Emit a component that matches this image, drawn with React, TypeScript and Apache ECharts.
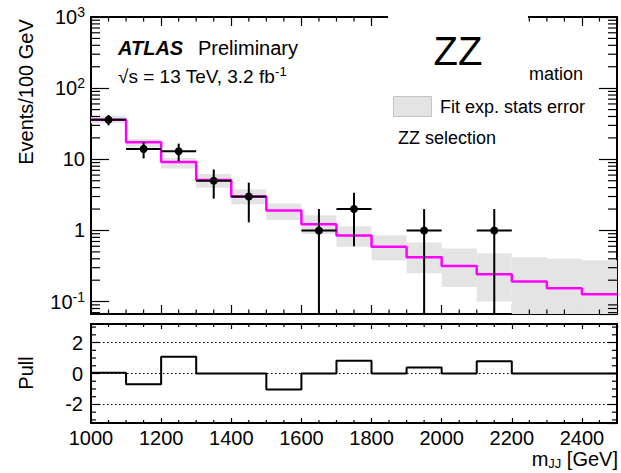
import React, { useEffect, useRef } from "react";
import * as echarts from "echarts";

// ---------------- data ----------------
const binEdges = [1000, 1100, 1200, 1300, 1400, 1500, 1600, 1700, 1800, 1900, 2000, 2100, 2200, 2300, 2400, 2500];
const fitValues = [36, 17.3, 9.2, 5.1, 2.98, 1.91, 1.22, 0.85, 0.59, 0.42, 0.316, 0.243, 0.192, 0.154, 0.127];
const bandLow = [32, 14.7, 7.4, 4.0, 2.33, 1.4, 0.89, 0.59, 0.38, 0.25, 0.16, 0.1, 0.05, 0.04, 0.035];
const bandHigh = [41, 19.3, 10.4, 6.2, 3.8, 2.4, 1.64, 1.15, 0.86, 0.68, 0.56, 0.48, 0.42, 0.4, 0.38];
const dataCounts: (number | null)[] = [36, 14, 13, 5, 3, null, 1, 2, null, 1, null, 1, null, null, null];
const dataErrors: (number | null)[] = [6, 3.7, 3.6, 2.2, 1.7, null, 1, 1.4, null, 1, null, 1, null, null, null];
const pullValues = [0.05, -0.7, 1.08, 0, 0, -1.03, 0, 0.82, 0, 0.39, 0, 0.8, 0, 0, 0];

// axis structure
const xMin = 1000;
const xMax = 2500;
const xMajorStep = 200;
const xMinorStep = 50;
const yMin = 0.067;
const yMax = 1000;
const pullMin = -3.2;
const pullMax = 3.2;
const pullMinorTicks = [-3, -2.5, -1.5, -1, -0.5, 0.5, 1, 1.5, 2.5, 3];

const FONT = "Liberation Sans";

const xMinorTicks: number[] = [];
for (let v = xMin + xMinorStep; v < xMax; v += xMinorStep) {
  if (v % xMajorStep !== 0) xMinorTicks.push(v);
}
const logMinorTicks: number[] = [];
for (let e = -2; e <= 2; e++) {
  for (let m = 2; m <= 9; m++) {
    const v = m * Math.pow(10, e);
    if (v >= yMin && v <= yMax) logMinorTicks.push(v);
  }
}

const stepData = (vals: number[]) => [
  ...vals.map((v, i) => [binEdges[i], v]),
  [binEdges[vals.length], vals[vals.length - 1]],
];

function xTickSeries(gridIdx: number, values: number[], dummyY: number, len: number) {
  return {
    type: "custom",
    xAxisIndex: gridIdx * 2,
    yAxisIndex: gridIdx * 2,
    z: 6,
    silent: true,
    data: values.map((v) => [v, dummyY]),
    encode: { x: 0, y: 1 },
    renderItem: (params: any, api: any) => {
      const cs = params.coordSys;
      const x = api.coord([api.value(0), dummyY])[0];
      const st = { stroke: "#000", lineWidth: 1.2 };
      return {
        type: "group",
        children: [
          { type: "line", shape: { x1: x, y1: cs.y + cs.height, x2: x, y2: cs.y + cs.height - len }, style: st },
          { type: "line", shape: { x1: x, y1: cs.y, x2: x, y2: cs.y + len }, style: st },
        ],
      };
    },
  };
}

function yTickSeries(gridIdx: number, values: number[], dummyX: number, len: number) {
  return {
    type: "custom",
    xAxisIndex: gridIdx * 2,
    yAxisIndex: gridIdx * 2,
    z: 6,
    silent: true,
    data: values.map((v) => [dummyX, v]),
    encode: { x: 0, y: 1 },
    renderItem: (params: any, api: any) => {
      const cs = params.coordSys;
      const y = api.coord([dummyX, api.value(1)])[1];
      const st = { stroke: "#000", lineWidth: 1.2 };
      return {
        type: "group",
        children: [
          { type: "line", shape: { x1: cs.x, y1: y, x2: cs.x + len, y2: y }, style: st },
          { type: "line", shape: { x1: cs.x + cs.width, y1: y, x2: cs.x + cs.width - len, y2: y }, style: st },
        ],
      };
    },
  };
}

const axisLineStyle = { show: true, onZero: false, lineStyle: { color: "#000", width: 2 } };

function buildOption() {
  const bandData = fitValues.map((_, i) => [binEdges[i], binEdges[i + 1], bandLow[i], bandHigh[i]]);
  const pointData = dataCounts
    .map((c, i) =>
      c == null
        ? null
        : [(binEdges[i] + binEdges[i + 1]) / 2, (binEdges[i + 1] - binEdges[i]) / 2, c, dataErrors[i] as number]
    )
    .filter((d) => d !== null);

  const xAxisBase = (gridIndex: number, position: string, showLabel: boolean, tickLen: number) => ({
    type: "value",
    gridIndex,
    position,
    min: xMin,
    max: xMax,
    interval: xMajorStep,
    axisLine: axisLineStyle,
    axisTick: { show: true, inside: true, length: tickLen, lineStyle: { color: "#000", width: 1.2 } },
    splitLine: { show: false },
    axisLabel: {
      show: showLabel,
      color: "#000",
      fontSize: 20,
      fontFamily: FONT,
      margin: 5,
      showMaxLabel: false,
      formatter: (v: number) => String(Math.round(v)),
    },
  });

  return {
    animation: false,
    textStyle: { fontFamily: FONT },
    grid: [
      { left: 91, top: 17, width: 526, height: 297 },
      { left: 91, top: 324, width: 526, height: 99 },
    ],
    xAxis: [
      xAxisBase(0, "bottom", false, 9),
      xAxisBase(0, "top", false, 9),
      xAxisBase(1, "bottom", true, 5),
      xAxisBase(1, "top", false, 5),
    ],
    yAxis: [
      {
        type: "log",
        logBase: 10,
        gridIndex: 0,
        position: "left",
        min: yMin,
        max: yMax,
        axisLine: axisLineStyle,
        axisTick: { show: true, inside: true, length: 18, lineStyle: { color: "#000", width: 1.2 } },
        splitLine: { show: false },
        axisLabel: {
          color: "#000",
          fontFamily: FONT,
          fontSize: 20,
          margin: 6,
          showMinLabel: false,
          formatter: (v: number) => {
            const e = Math.log10(v);
            const r = Math.round(e);
            if (Math.abs(e - r) > 1e-6) return "";
            if (r === 0) return "{b|1}";
            if (r === 1) return "{b|10}";
            return `{b|10}{s|${r}}`;
          },
          rich: {
            b: { fontSize: 20, lineHeight: 24, fontFamily: FONT, color: "#000" },
            s: { fontSize: 14, lineHeight: 14, verticalAlign: "top", fontFamily: FONT, color: "#000" },
          },
        },
      },
      {
        type: "log",
        logBase: 10,
        gridIndex: 0,
        position: "right",
        min: yMin,
        max: yMax,
        axisLine: axisLineStyle,
        axisTick: { show: true, inside: true, length: 18, lineStyle: { color: "#000", width: 1.2 } },
        splitLine: { show: false },
        axisLabel: { show: false },
      },
      {
        type: "value",
        gridIndex: 1,
        position: "left",
        min: pullMin,
        max: pullMax,
        splitNumber: 3,
        axisLine: axisLineStyle,
        axisTick: { show: true, inside: true, length: 9, lineStyle: { color: "#000", width: 1.2 } },
        splitLine: { show: true, lineStyle: { color: "#000", width: 1, type: [1.5, 2.5] } },
        axisLabel: {
          color: "#000",
          fontFamily: FONT,
          fontSize: 20,
          margin: 8,
          showMinLabel: false,
          showMaxLabel: false,
          formatter: (v: number) => (Math.abs(v - Math.round(v)) > 1e-6 ? "" : String(Math.round(v))),
        },
      },
      {
        type: "value",
        gridIndex: 1,
        position: "right",
        min: pullMin,
        max: pullMax,
        splitNumber: 3,
        axisLine: axisLineStyle,
        axisTick: { show: true, inside: true, length: 9, lineStyle: { color: "#000", width: 1.2 } },
        splitLine: { show: false },
        axisLabel: { show: false },
      },
    ],
    series: [
      {
        type: "custom",
        name: "Fit exp. stats error",
        xAxisIndex: 0,
        yAxisIndex: 0,
        z: 2,
        clip: true,
        silent: true,
        data: bandData,
        encode: { x: [0, 1], y: [2, 3] },
        renderItem: (params: any, api: any) => {
          const cs = params.coordSys;
          const pTop = api.coord([api.value(0), api.value(3)]);
          const pBot = api.coord([api.value(1), api.value(2)]);
          const yTop = Math.max(pTop[1], cs.y);
          const yBot = Math.min(pBot[1], cs.y + cs.height);
          return {
            type: "rect",
            shape: { x: pTop[0], y: yTop, width: pBot[0] - pTop[0], height: yBot - yTop },
            style: { fill: "#e4e4e4" },
          };
        },
      },
      {
        type: "line",
        name: "Fit",
        xAxisIndex: 0,
        yAxisIndex: 0,
        z: 3,
        step: "end",
        showSymbol: false,
        silent: true,
        data: stepData(fitValues),
        lineStyle: { color: "#ff00ff", width: 2.5 },
      },
      {
        type: "custom",
        name: "Data",
        xAxisIndex: 0,
        yAxisIndex: 0,
        z: 4,
        silent: true,
        data: pointData,
        encode: { x: 0, y: 2 },
        renderItem: (params: any, api: any) => {
          const cs = params.coordSys;
          const xc = api.value(0);
          const hw = api.value(1);
          const y = api.value(2);
          const e = api.value(3);
          const c = api.coord([xc, y]);
          const l = api.coord([xc - hw, y]);
          const r = api.coord([xc + hw, y]);
          const t = api.coord([xc, y + e]);
          const bottomY = cs.y + cs.height;
          const lowVal = y - e;
          const by = lowVal > 0 ? Math.min(api.coord([xc, lowVal])[1], bottomY) : bottomY;
          const st = { stroke: "#000", lineWidth: 2 };
          return {
            type: "group",
            children: [
              { type: "line", shape: { x1: l[0], y1: c[1], x2: r[0], y2: c[1] }, style: st },
              { type: "line", shape: { x1: c[0], y1: t[1], x2: c[0], y2: by }, style: st },
              { type: "circle", shape: { cx: c[0], cy: c[1], r: 4 }, style: { fill: "#000" } },
            ],
          };
        },
      },
      {
        type: "line",
        name: "Pull",
        xAxisIndex: 2,
        yAxisIndex: 2,
        z: 3,
        step: "end",
        showSymbol: false,
        silent: true,
        data: stepData(pullValues),
        lineStyle: { color: "#000", width: 2 },
      },
      xTickSeries(0, xMinorTicks, 1, 4.5),
      yTickSeries(0, logMinorTicks, 1500, 9),
      xTickSeries(1, xMinorTicks, 0, 3),
      yTickSeries(1, pullMinorTicks, 1500, 5),
    ],
    graphic: [
      {
        type: "text",
        z: 100,
        x: 26,
        y: 92,
        rotation: Math.PI / 2,
        style: { text: "Events/100 GeV", fontSize: 20, fontFamily: FONT, fill: "#000", align: "center", verticalAlign: "middle" },
      },
      {
        type: "text",
        z: 100,
        x: 26,
        y: 373,
        rotation: Math.PI / 2,
        style: { text: "Pull", fontSize: 20, fontFamily: FONT, fill: "#000", align: "center", verticalAlign: "middle" },
      },
      {
        type: "text",
        z: 100,
        x: 618,
        y: 459,
        style: {
          text: "{m|m}{j|JJ}{m| [GeV]}",
          align: "right",
          verticalAlign: "middle",
          fill: "#000",
          rich: {
            m: { fontSize: 20, lineHeight: 22, fontFamily: FONT, fill: "#000" },
            j: { fontSize: 13, lineHeight: 4, verticalAlign: "bottom", fontFamily: FONT, fill: "#000" },
          },
        },
      },
      {
        type: "text",
        z: 100,
        x: 118,
        y: 48,
        style: { text: "ATLAS", fontSize: 20, fontWeight: "bold", fontStyle: "italic", fontFamily: FONT, fill: "#000", verticalAlign: "middle" },
      },
      {
        type: "text",
        z: 100,
        x: 198,
        y: 48,
        style: { text: "Preliminary", fontSize: 20, fontFamily: FONT, fill: "#000", verticalAlign: "middle" },
      },
      {
        type: "text",
        z: 100,
        x: 118,
        y: 76,
        style: {
          text: "{n|√s = 13 TeV, 3.2 fb}{s|-1}",
          verticalAlign: "middle",
          fill: "#000",
          rich: {
            n: { fontSize: 19, lineHeight: 22, fontFamily: FONT, fill: "#000" },
            s: { fontSize: 13, lineHeight: 12, verticalAlign: "top", fontFamily: FONT, fill: "#000" },
          },
        },
      },
      { type: "rect", z: 100, shape: { x: 388, y: 4, width: 140, height: 82 }, style: { fill: "#fff" } },
      {
        type: "text",
        z: 101,
        x: 458,
        y: 51,
        style: { text: "ZZ", fontSize: 40, fontFamily: FONT, fill: "#000", align: "center", verticalAlign: "middle" },
      },
      {
        type: "text",
        z: 101,
        x: 529,
        y: 74,
        style: { text: "mation", fontSize: 18, fontFamily: FONT, fill: "#000", verticalAlign: "middle" },
      },
      {
        type: "rect",
        z: 101,
        shape: { x: 393.5, y: 96.5, width: 38, height: 20 },
        style: { fill: "#e4e4e4", stroke: "#c4c4c4", lineWidth: 1 },
      },
      {
        type: "text",
        z: 101,
        x: 440,
        y: 106.5,
        style: { text: "Fit exp. stats error", fontSize: 18, fontFamily: FONT, fill: "#000", verticalAlign: "middle" },
      },
      {
        type: "text",
        z: 101,
        x: 398,
        y: 138,
        style: { text: "ZZ selection", fontSize: 18, fontFamily: FONT, fill: "#000", verticalAlign: "middle" },
      },
    ],
  };
}

export default function App() {
  const ref = useRef<HTMLDivElement>(null);
  useEffect(() => {
    if (!ref.current) return;
    const chart = echarts.init(ref.current, undefined, { renderer: "svg" });
    chart.setOption(buildOption() as any);
    return () => chart.dispose();
  }, []);
  return (
    <div
      ref={ref}
      style={{ position: "fixed", left: 0, top: 0, width: 621, height: 473, background: "#fff" }}
    />
  );
}
